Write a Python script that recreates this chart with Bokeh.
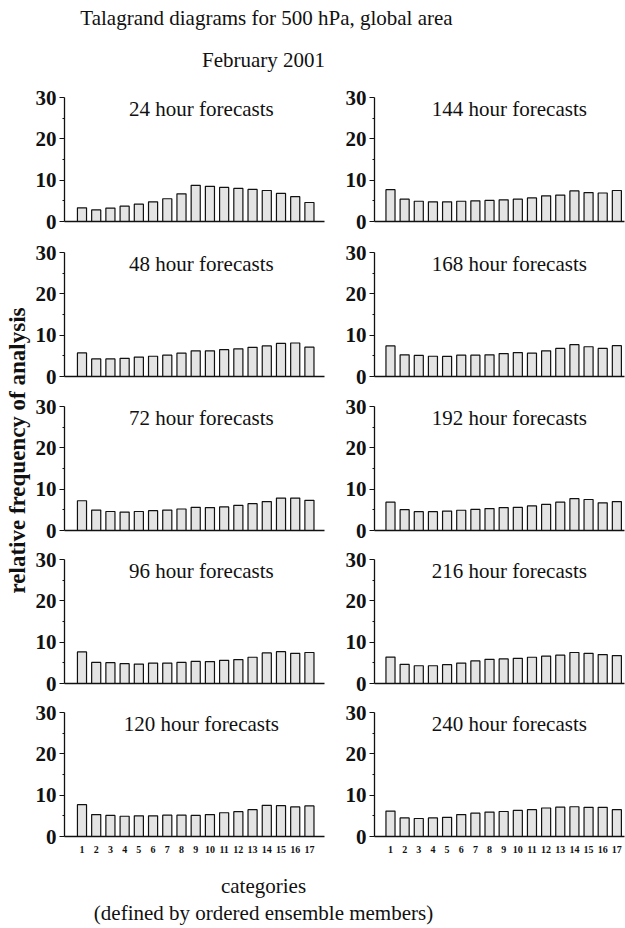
from bokeh.plotting import figure
from bokeh.models import Range1d, FixedTicker, Label
from bokeh.layouts import column, row
from bokeh.embed import file_html
from bokeh.resources import INLINE

# ---------------- data ----------------
categories = list(range(1, 18))
cat_labels = [str(c) for c in categories]
y_ticks = [0, 10, 20, 30]
y_minor = [5, 15, 25]

h024 = [3.3, 2.8, 3.25, 3.7, 4.2, 4.75, 5.5, 6.7, 8.75, 8.5, 8.25, 8.0, 7.75, 7.5, 6.8, 6.0, 4.6]
h048 = [5.7, 4.25, 4.25, 4.4, 4.7, 4.9, 5.15, 5.65, 6.2, 6.2, 6.5, 6.7, 7.05, 7.4, 8.0, 8.1, 7.1]
h072 = [7.2, 4.95, 4.6, 4.45, 4.6, 4.8, 4.95, 5.2, 5.6, 5.55, 5.7, 6.1, 6.5, 7.0, 7.85, 7.85, 7.3]
h096 = [7.65, 5.1, 5.05, 4.8, 4.7, 4.95, 4.95, 5.1, 5.35, 5.3, 5.6, 5.8, 6.35, 7.4, 7.7, 7.3, 7.5]
h120 = [7.7, 5.3, 5.1, 4.9, 5.0, 5.0, 5.15, 5.15, 5.1, 5.3, 5.75, 6.0, 6.5, 7.55, 7.45, 7.15, 7.4]
h144 = [7.7, 5.4, 4.9, 4.75, 4.75, 4.9, 5.0, 5.1, 5.25, 5.4, 5.7, 6.2, 6.4, 7.4, 7.0, 6.9, 7.5]
h168 = [7.4, 5.25, 5.1, 4.9, 4.85, 5.15, 5.15, 5.25, 5.55, 5.8, 5.65, 6.2, 6.8, 7.7, 7.2, 6.8, 7.45]
h192 = [6.85, 5.05, 4.55, 4.55, 4.7, 4.9, 5.1, 5.3, 5.55, 5.6, 5.95, 6.3, 6.85, 7.7, 7.5, 6.7, 7.0]
h216 = [6.4, 4.65, 4.3, 4.3, 4.55, 4.95, 5.45, 5.85, 5.95, 6.1, 6.35, 6.6, 6.85, 7.5, 7.3, 7.0, 6.75]
h240 = [6.15, 4.5, 4.35, 4.5, 4.65, 5.3, 5.65, 5.9, 6.05, 6.3, 6.5, 6.9, 7.1, 7.2, 7.05, 7.05, 6.5]

left_titles = ["24 hour forecasts", "48 hour forecasts", "72 hour forecasts",
               "96 hour forecasts", "120 hour forecasts"]
right_titles = ["144 hour forecasts", "168 hour forecasts", "192 hour forecasts",
                "216 hour forecasts", "240 hour forecasts"]
left_series = [h024, h048, h072, h096, h120]
right_series = [h144, h168, h192, h216, h240]

main_title = "Talagrand diagrams for 500 hPa, global area"
sub_title = "February 2001"
y_title = "relative frequency of analysis"
x_title = "categories"
x_subtitle = "(defined by ordered ensemble members)"

# ---------------- styling ----------------
SERIF = "Liberation Serif"
BAR_FILL = "#e4e4e4"
INK = "#111111"
row_bottoms = [17, 16, 15, 15, 22]


def panel(title, vals, is_left, bottom_border, is_bottom):
    if is_left:
        xr = Range1d(-0.23, 18.06)
        fw, bl, br = 260, 31, 18
    else:
        xr = Range1d(-0.13, 17.54)
        fw, bl, br = 250, 31, 3
    p = figure(frame_width=fw, frame_height=124, x_range=xr, y_range=Range1d(0, 30),
               output_backend="svg", toolbar_location=None, tools="",
               min_border_left=bl, min_border_right=br, min_border_top=14,
               min_border_bottom=bottom_border)
    p.outline_line_color = None
    p.grid.visible = False
    p.vbar(x=categories, top=vals, width=0.64, bottom=0,
           fill_color=BAR_FILL, line_color=INK, line_width=1.2)

    ya = p.yaxis[0]
    ya.ticker = FixedTicker(ticks=y_ticks, minor_ticks=y_minor)
    ya.major_label_text_font = SERIF
    ya.major_label_text_font_style = "bold"
    ya.major_label_text_font_size = "21px"
    ya.major_label_text_color = INK
    ya.major_tick_out = 5
    ya.major_tick_in = 0
    ya.minor_tick_out = 2
    ya.minor_tick_in = 0
    ya.major_label_standoff = 3
    ya.axis_line_width = 1.3
    ya.axis_line_color = INK
    ya.major_tick_line_color = INK
    ya.minor_tick_line_color = INK
    ya.major_tick_line_width = 1.2

    xa = p.xaxis[0]
    xa.ticker = FixedTicker(ticks=categories if is_bottom else [])
    xa.major_label_overrides = {c: l for c, l in zip(categories, cat_labels)}
    xa.major_label_text_font = SERIF
    xa.major_label_text_font_style = "bold"
    xa.major_label_text_font_size = "10px"
    xa.major_label_text_color = INK
    xa.major_tick_out = 0
    xa.major_tick_in = 0
    xa.minor_tick_out = 0
    xa.minor_tick_in = 0
    xa.major_label_standoff = 9
    xa.axis_line_width = 1.3
    xa.axis_line_color = INK

    p.add_layout(Label(x=9.4, y=27.1, text=title, text_align="center",
                       text_baseline="middle", text_font=SERIF,
                       text_font_size="21px", text_color=INK))
    return p


def blank(w, h):
    f = figure(width=w, height=h, x_range=Range1d(0, w), y_range=Range1d(0, h),
               output_backend="svg", toolbar_location=None, tools="",
               min_border=0, x_axis_type=None, y_axis_type=None)
    f.outline_line_color = None
    f.grid.visible = False
    return f


left_figs = [panel(t, v, True, b, i == 4)
             for i, (t, v, b) in enumerate(zip(left_titles, left_series, row_bottoms))]
right_figs = [panel(t, v, False, b, i == 4)
              for i, (t, v, b) in enumerate(zip(right_titles, right_series, row_bottoms))]

header = blank(625, 83)
header.add_layout(Label(x=266, y=66, text=main_title, text_align="center",
                        text_baseline="middle", text_font=SERIF,
                        text_font_size="21px", text_color=INK))
header.add_layout(Label(x=263, y=24, text=sub_title, text_align="center",
                        text_baseline="middle", text_font=SERIF,
                        text_font_size="21px", text_color=INK))

ylab = blank(32, 775)
ylab.add_layout(Label(x=17, y=408, text=y_title, angle=1.5707963, text_align="center",
                      text_baseline="middle", text_font=SERIF, text_font_style="bold",
                      text_font_size="23px", text_color=INK))

footer = blank(625, 70)
footer.add_layout(Label(x=263, y=43, text=x_title, text_align="center",
                        text_baseline="middle", text_font=SERIF,
                        text_font_size="21px", text_color=INK))
footer.add_layout(Label(x=263, y=16, text=x_subtitle, text_align="center",
                        text_baseline="middle", text_font=SERIF,
                        text_font_size="21px", text_color=INK))

layout = column(header,
                row(ylab, column(*left_figs), column(*right_figs)),
                footer)

open("out.html", "w").write(file_html(layout, INLINE))
